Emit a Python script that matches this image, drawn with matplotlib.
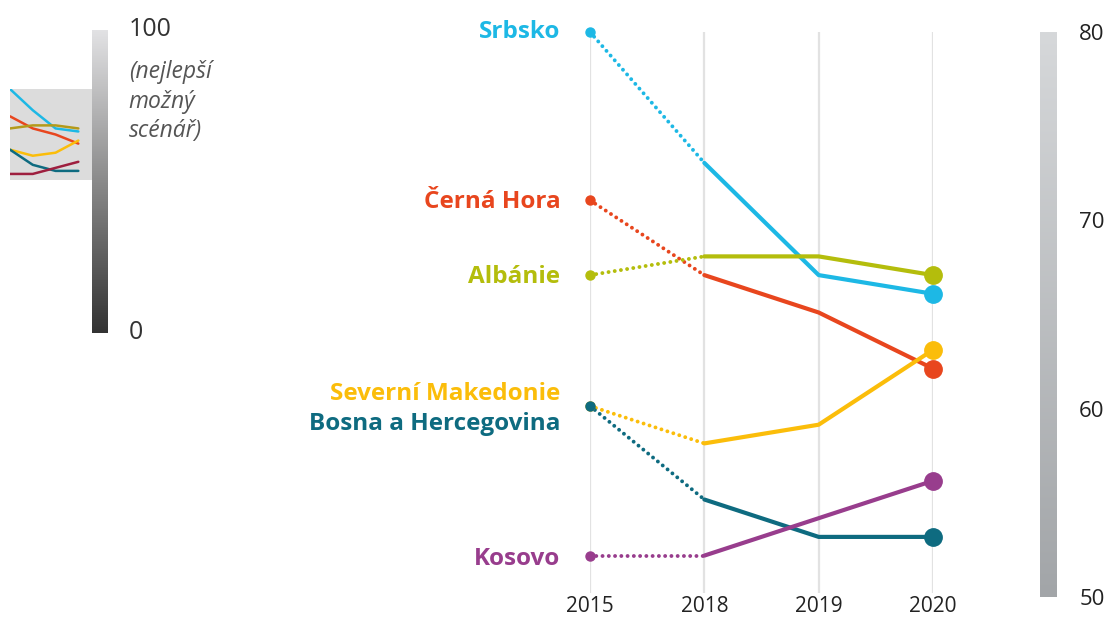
import numpy as np
import matplotlib
matplotlib.use("Agg")
import matplotlib.pyplot as plt
from matplotlib.colors import LinearSegmentedColormap

years = ["2015", "2018", "2019", "2020"]
countries = ["Srbsko", "Černá Hora", "Albánie", "Severní Makedonie", "Bosna a Hercegovina", "Kosovo"]
srbsko = [80, 73, 67, 66]
cerna_hora = [71, 67, 65, 62]
albanie = [67, 68, 68, 67]
severni_makedonie = [60, 58, 59, 63]
bosna = [60, 55, 53, 53]
kosovo = [52, 52, 54, 56]
series = [srbsko, cerna_hora, albanie, severni_makedonie, bosna, kosovo]
colors = ["#1db8e5", "#e8461e", "#b4bd0c", "#fbbd0a", "#0e6b80", "#983d8d"]
mini_colors = ["#1db8e5", "#e8461e", "#b49a1a", "#fbbd0a", "#0e6b80", "#9e1f3f"]
label_offsets = [0, -0.1, -0.1, 0.65, -0.95, -0.2]  # in data units, to separate overlapping labels
right_ticks = [50, 60, 70, 80]

plt.rcParams['font.family'] = ['Open Sans', 'DejaVu Sans']

W, H = 1108, 619
fig = plt.figure(figsize=(W / 100, H / 100), dpi=100)

def ax_at(x0, y0, x1, y1):
    return fig.add_axes([x0 / W, 1 - y1 / H, (x1 - x0) / W, (y1 - y0) / H])

# ---- main axes
ax = ax_at(590, 32, 933, 593)
ax.set_xlim(0, 3)
ax.set_ylim(50, 80)
for s in ax.spines.values():
    s.set_visible(False)
ax.set_yticks([])
ax.set_xticks(range(len(years)))
ax.set_xticklabels(years, fontsize=15, color="#222222")
ax.tick_params(axis="x", length=0, pad=2)
for i in range(len(years)):
    ax.axvline(i, color="#e2e2e2", lw=1.6, zorder=0)

x = np.arange(len(years))
for name, vals, c, off in zip(countries, series, colors, label_offsets):
    ax.plot(x[:2], vals[:2], color=c, lw=2.8, linestyle=(0, (0.01, 1.6)),
            clip_on=False, zorder=2, dash_capstyle="round")
    ax.plot(x[1:], vals[1:], color=c, lw=3, clip_on=False, zorder=3,
            solid_capstyle="round")
    ax.plot(x[0], vals[0], "o", color=c, ms=6.5, clip_on=False, zorder=4)
    ax.plot(x[-1], vals[-1], "o", color=c, ms=12.5, clip_on=False, zorder=4)
    ax.text(-0.26, vals[0] + off, name, color=c, fontsize=17.5, fontweight="bold",
            ha="right", va="center", clip_on=False)

# ---- right gradient bar
cax = ax_at(1040, 32, 1057, 597)
grad = np.linspace(0, 1, 256).reshape(-1, 1)
cmap_r = LinearSegmentedColormap.from_list("g", ["#a2a5a8", "#d6d8da"])
cax.imshow(grad, aspect="auto", cmap=cmap_r, origin="lower", extent=[0, 1, 50, 80])
cax.set_xlim(0, 1)
cax.set_ylim(50, 80)
cax.set_xticks([])
cax.yaxis.tick_right()
cax.set_yticks(right_ticks)
cax.set_yticklabels([str(t) for t in right_ticks], fontsize=16, color="#222222")
cax.tick_params(axis="y", length=0, pad=16)
for s in cax.spines.values():
    s.set_visible(False)

# ---- left gradient bar (0-100)
lax = ax_at(92, 30, 108, 333)
cmap_l = LinearSegmentedColormap.from_list("g2", ["#333333", "#8a8a8a", "#e2e2e4"])
lax.imshow(grad, aspect="auto", cmap=cmap_l, origin="lower", extent=[0, 1, 0, 100])
lax.set_xlim(0, 1)
lax.set_ylim(0, 100)
lax.set_xticks([])
lax.set_yticks([])
for s in lax.spines.values():
    s.set_visible(False)
lax.text(2.3, 100, "100", fontsize=18, color="#333333", ha="left", va="center",
         clip_on=False)
lax.text(2.3, 90, "(nejlepší\nmožný\nscénář)", fontsize=16.5, style="italic",
         color="#555555", ha="left", va="top", linespacing=1.3, clip_on=False)
lax.text(2.3, 0, "0", fontsize=18, color="#333333", ha="left", va="center", clip_on=False)

# ---- left mini chart (50-80 range on the 0-100 scale)
iax = ax_at(10, 89, 92, 180)
iax.set_facecolor("#dcdcdc")
iax.set_xlim(0, 3.6)
iax.set_ylim(50, 80)
iax.set_xticks([])
iax.set_yticks([])
for s in iax.spines.values():
    s.set_visible(False)
for vals, c in zip(series, mini_colors):
    iax.plot(x, vals, color=c, lw=1.8, solid_capstyle="round", solid_joinstyle="round")

fig.savefig("out.png", dpi=100)
